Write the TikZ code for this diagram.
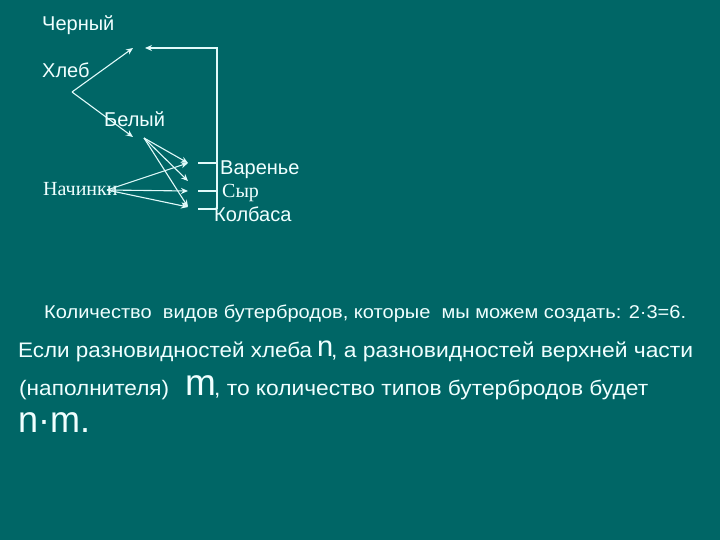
\documentclass[tikz,border=0pt]{standalone}
\usepackage{fontspec}
\setmainfont{Liberation Sans}
\newfontfamily\serifrm{Liberation Serif}
\usetikzlibrary{arrows.meta}
\definecolor{bg}{RGB}{0,102,102}
\definecolor{ln}{RGB}{225,250,250}
\definecolor{tx}{RGB}{240,255,255}
\newcommand{\fitw}[2]{\resizebox{#1}{\height}{#2}}
\begin{document}
\begin{tikzpicture}[x=1pt,y=-1pt,
  lbl/.style={text=tx, inner sep=0pt, anchor=base west, font=\fontsize{20}{22}\selectfont},
  srf/.style={lbl, font=\fontsize{20}{22}\serifrm},
  btm/.style={text=tx, inner sep=0pt, anchor=base west, font=\fontsize{21}{24}\selectfont},
  conn/.style={draw=ln, line width=1.1pt, -{Stealth[length=7pt,width=6pt]}},
  plainln/.style={draw=ln, line width=1.1pt}]
\fill[bg] (0,0) rectangle (720,540);
\useasboundingbox (0,0) rectangle (720,540);

% labels
\node[lbl] (cherny) at (42,31) {Черный};
\node[lbl] (hleb) at (42,78) {Хлеб};
\node[lbl] (bely) at (104,127) {Белый};
\node[srf] (nachinki) at (43,196) {Начинки};
\node[lbl] (varenye) at (220,175) {Варенье};
\node[srf] (syr) at (222,198) {Сыр};
\node[lbl] (kolbasa) at (214,222) {Колбаса};

% points
\coordinate (hv) at (72,92);
\coordinate (cht) at (133,48);
\coordinate (bt) at (133,137);
\coordinate (bs) at (144,138);
\coordinate (ns) at (107,190);
\coordinate (t1) at (188,163);
\coordinate (t2) at (188,181);
\coordinate (t3) at (188,191);
\coordinate (t4) at (188,207);
\coordinate (br) at (217,48);
\coordinate (bb) at (217,209);

% bread arrows
\draw[conn] (hv) -- (cht);
\draw[conn] (hv) -- (bt);
% bracket from fillings to black bread
\draw[conn] (bb) -- (br) -- (145,48);
\draw[plainln] (198,163) -- (217,163);
\draw[plainln] (198,191) -- (217,191);
\draw[plainln] (198,209) -- (bb);
% white bread to fillings
\draw[conn] (bs) -- (t1);
\draw[conn] (bs) -- (t2);
\draw[conn] (bs) -- (t4);
% Начинки to fillings
\draw[conn] (ns) -- (t1);
\draw[conn] (ns) -- (t3);
\draw[conn] (ns) -- (t4);

% bottom text
\node[text=tx, inner sep=0pt, anchor=base west, font=\fontsize{18.5}{20}\selectfont] (l1) at (44,318)
  {\fitw{642pt}{Количество\ \ видов бутербродов, которые\ \ мы можем создать: 2·3=6.}};
\node[btm] (l2a) at (18,357) {\fitw{294pt}{Если разновидностей хлеба}};
\node[btm, font=\fontsize{29}{30}\selectfont] (n1) at (317,356) {n};
\node[btm] (l2b) at (331,357) {\fitw{362pt}{, а разновидностей верхней части}};
\node[btm] (l3a) at (19,395) {\fitw{150pt}{(наполнителя)}};
\node[btm, font=\fontsize{37}{38}\selectfont] (m1) at (185,395) {m};
\node[btm] (l3b) at (214,395) {\fitw{434pt}{, то количество типов бутербродов будет}};
\node[btm, font=\fontsize{37}{38}\selectfont] (nm) at (18,432) {\fitw{72pt}{n·m.}};
\end{tikzpicture}
\end{document}
